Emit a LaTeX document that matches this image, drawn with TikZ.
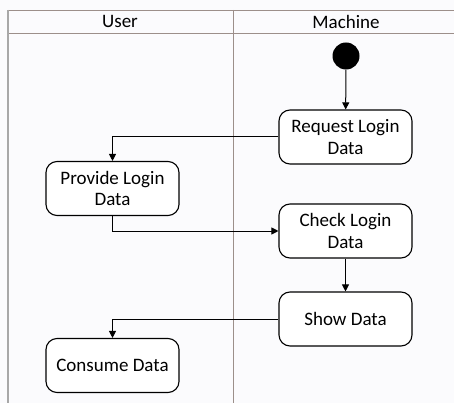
\documentclass[tikz,border=0pt]{standalone}
\usepackage{fontspec}
\setmainfont{Carlito}
\usetikzlibrary{arrows.meta}
\definecolor{paper}{HTML}{FBFBFD}
\definecolor{laneline}{HTML}{9C8F8A}
\definecolor{edgegray}{HTML}{A8A8A8}
\begin{document}
\begin{tikzpicture}[x=1pt,y=-1pt,
  action/.style={draw, line width=1.1pt, rounded corners=11pt, fill=white,
    minimum width=133pt, minimum height=54pt, align=center, inner sep=2pt,
    font=\fontsize{19}{21.5}\selectfont},
  flow/.style={draw, line width=1pt, -{Triangle[length=7pt,width=7pt]}},
  lane/.style={draw=laneline, line width=0.6pt},
  title/.style={font=\fontsize{19}{22}\selectfont}]
  % page and swimlane frame
  \fill[paper] (0,0) rectangle (454,403);
  \useasboundingbox (0,0) rectangle (454,403);
  \draw[lane] (8,10) -- (454,10);
  \draw[lane] (8,33) -- (454,33);
  \draw[lane] (233,10) -- (233,403);
  \draw[edgegray, line width=1.4pt] (8,10) -- (8,403);
  \node[title] (user) at (120,21.5) {User};
  \node[title] (machine) at (346,21.5) {Machine};
  % activities
  \node[circle, fill=black, minimum size=27pt, inner sep=0pt] (start) at (346,56) {};
  \node[action] (request) at (345.5,137) {Request Login\\Data};
  \node[action] (provide) at (112.5,188.5) {Provide Login\\Data};
  \node[action] (check) at (345.5,231) {Check Login\\Data};
  \node[action] (show) at (345.5,319) {Show Data};
  \node[action] (consume) at (112.5,365.5) {Consume Data};
  % control flow
  \draw[flow] (start) -- (request);
  \draw[flow] (request.west) -| (provide.north);
  \draw[flow] (provide.south) |- (check.west);
  \draw[flow] (check) -- (show);
  \draw[flow] (show.west) -| (consume.north);
\end{tikzpicture}
\end{document}
